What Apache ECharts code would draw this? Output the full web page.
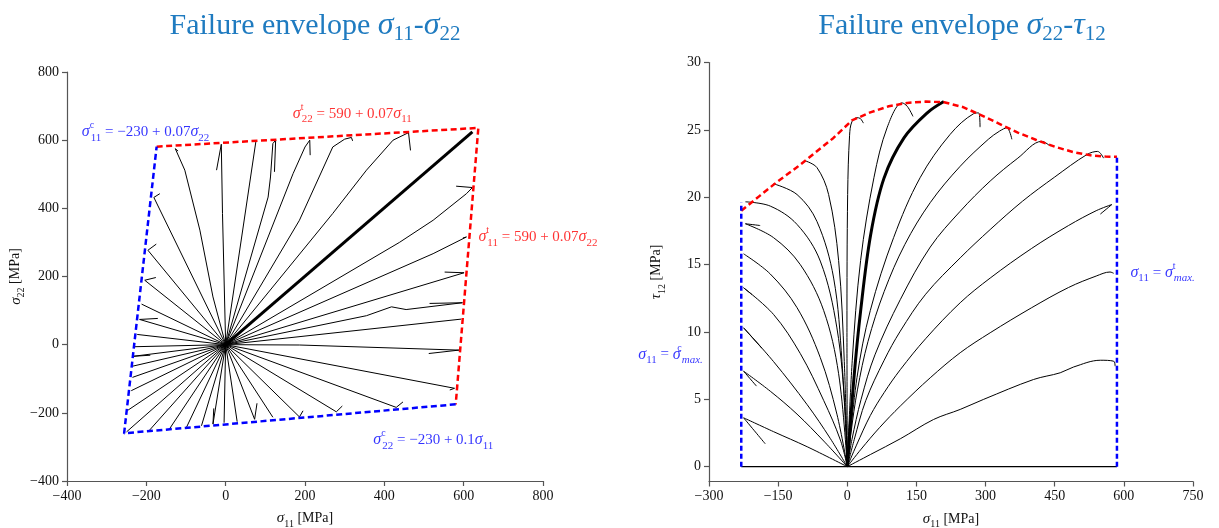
<!DOCTYPE html>
<html>
<head>
<meta charset="utf-8">
<script src="https://cdn.jsdelivr.net/npm/echarts@6/dist/echarts.min.js"></script>
<style>
  html, body { margin: 0; padding: 0; background: #fff; }
  #chart { width: 1219px; height: 528px; }
</style>
</head>
<body>
<div id="chart"></div>
<script>
// ---- data: left chart (sigma11 - sigma22), load paths from the origin to failure
const leftTopPaths = [
  [[0, 0], [-32, 140], [-65, 336], [-103, 512], [-127, 575], [-120, 568]],
  [[0, 0], [-8, 385], [-11, 588], [-23, 512]],
  [[0, 0], [76, 595]],
  [[0, 0], [107, 433], [113, 492], [119, 590], [126, 600], [123, 507]],
  [[0, 0], [170, 502], [200, 580], [212, 600], [213, 556]],
  [[0, 0], [186, 365], [270, 580], [300, 603], [317, 608], [320, 598]],
  [[0, 0], [270, 385], [355, 512], [422, 600], [461, 622], [466, 570]]
];
const leftRightPaths = [
  [[0, 0], [438, 300], [523, 365], [607, 443], [622, 461], [581, 465]],
  [[0, 0], [523, 267], [607, 316], [598, 313]],
  [[0, 0], [601, 211], [552, 213]],
  [[0, 0], [355, 85], [418, 111], [455, 103], [597, 123], [514, 121]],
  [[0, 0], [594, 75]],
  [[0, 0], [186, -1], [588, -16], [512, -26]],
  [[0, 0], [577, -128], [565, -133]]
];
const leftBottomPaths = [
  [[0, 0], [430, -184], [447, -168]],
  [[0, 0], [279, -197], [294, -180]],
  [[0, 0], [186, -212], [195, -194]],
  [[0, 0], [119, -213]],
  [[0, 0], [73, -219], [79, -172]],
  [[0, 0], [29, -226]],
  [[0, 0], [-4, -229]],
  [[0, 0], [-32, -233], [-30, -187]],
  [[0, 0], [-61, -238]],
  [[0, 0], [-99, -243]],
  [[0, 0], [-141, -246]],
  [[0, 0], [-192, -251]],
  [[0, 0], [-250, -256]]
];
const leftSidePaths = [
  [[0, 0], [-246, -192]],
  [[0, 0], [-238, -135]],
  [[0, 0], [-235, -96]],
  [[0, 0], [-234, -63]],
  [[0, 0], [-232, -34], [-190, -31]],
  [[0, 0], [-229, -6]],
  [[0, 0], [-223, 30]],
  [[0, 0], [-217, 74], [-171, 77]],
  [[0, 0], [-212, 119]],
  [[0, 0], [-204, 189], [-176, 197]],
  [[0, 0], [-196, 277], [-175, 295]],
  [[0, 0], [-181, 432], [-166, 443]]
];
const leftBold = [[0, 0], [622, 624]];
const leftEnvTension = [[-174, 581], [637, 636], [580, -175]];
const leftEnvCompression = [[580, -175], [-256, -260], [-174, 581]];

// ---- data: right chart (sigma11 - tau12)
const rightNegPaths = [
  [[0, 0], [-87, 1.48], [-160, 2.6], [-225, 3.63], [-178, 1.7]],
  [[0, 0], [-51, 1.9], [-109, 3.9], [-167, 5.6], [-225, 7.09], [-197, 5.98]],
  [[0, 0], [-37, 2.1], [-87, 4.6], [-160, 7.8], [-225, 10.31], [-185, 8.78]],
  [[0, 0], [-15, 1.98], [-51, 4.9], [-102, 8.4], [-160, 11.3], [-225, 13.28], [-207, 12.78]],
  [[0, 0], [-22.5, 3.9], [-58.6, 8.1], [-109, 11.8], [-167, 14.3], [-225, 15.8]],
  [[0, 0], [-18.8, 6.9], [-51.3, 11.6], [-102, 15.0], [-160, 17.0], [-221, 18.03], [-189, 17.9]],
  [[0, 0], [-4.4, 4.1], [-22.5, 10.3], [-58.6, 15.26], [-109, 17.98], [-167, 19.34], [-221, 19.66]],
  [[0, 0], [-11.5, 7.8], [-29.6, 14.0], [-65.8, 18.2], [-109, 20.2], [-160, 21.0]],
  [[0, 0], [-6.5, 7.8], [-18.8, 15.3], [-40.5, 20.2], [-65.8, 22.2], [-91, 22.7]],
  [[0, 0], [-0.7, 10.3], [0.8, 20.2], [5, 24.6], [10, 25.6], [21, 25.9], [28, 25.85], [35, 25.5]]
];
const rightPosPaths = [
  [[0, 0], [10.8, 7.9], [28.9, 15.3], [57.8, 21.45], [86.8, 25.2], [119, 27.0], [130, 26.75], [142.5, 26.0]],
  [[0, 0], [21, 6.6], [50, 11.6], [100.5, 17], [158, 21.45], [223, 24.66], [274, 26.2], [285, 26.26], [288, 25.2]],
  [[0, 0], [8, 2.5], [22, 5.7], [45, 9.3], [80, 13.0], [125, 16.5], [180, 19.6], [245, 22.3], [306, 24.3], [330, 24.9], [346, 25.15], [357, 24.3]],
  [[0, 0], [10, 2.0], [30, 5.0], [60, 8.3], [115, 12.4], [180, 16.3], [245, 18.96], [310, 21.2], [370, 22.9], [422, 24.15], [440, 23.8]],
  [[0, 0], [15, 2.0], [40, 4.9], [80, 7.9], [115, 10.06], [170, 12.8], [245, 15.5], [310, 17.6], [380, 19.7], [450, 21.5], [520, 23.17], [543, 23.4], [556, 22.9]],
  [[0, 0], [20, 1.6], [50, 3.8], [80, 5.5], [115, 7.2], [170, 9.5], [245, 12.17], [310, 14.0], [400, 16.2], [480, 17.9], [540, 19.0], [574, 19.46], [549, 18.75]],
  [[0, 0], [30, 1.3], [70, 2.9], [115, 4.5], [180, 6.6], [245, 8.46], [310, 9.94], [400, 11.8], [480, 13.3], [540, 14.15], [570, 14.45], [578, 14.35]],
  [[0, 0], [50, 0.9], [115, 2.07], [187, 3.5], [245, 4.25], [296, 5.0], [404, 6.47], [462, 6.97], [491, 7.4], [549, 7.9], [578, 7.83], [581, 7.46]]
];
const rightBold = [[0, 0], [14.5, 6.6], [28.9, 11.55], [50.6, 17.2], [79.5, 21.4], [123, 24.4], [173.5, 26.26], [209.5, 27.1]];
const rightEnvX = [-230, -190, -150, -110, -70, -30, 10, 50, 90, 130, 170, 210, 250, 290, 330, 370, 410, 450, 490, 530, 560, 585];
const rightEnvY = [19.0, 20.1, 21.2, 22.2, 23.3, 24.4, 25.7, 26.3, 26.75, 27.0, 27.1, 27.05, 26.7, 26.1, 25.45, 24.8, 24.25, 23.75, 23.35, 23.1, 23.02, 23.0];
const rightMaxC = [[-230, 0], [-230, 19.6]];
const rightMaxT = [[585, 0], [585, 23.1]];
const rightBase = [[-230, 0], [585, 0]];
const rightYTicks = [0, 5, 10, 15, 20, 25, 30];

const serif = "'Liberation Serif', 'DejaVu Serif', serif";
const chart = echarts.init(document.getElementById('chart'));

function mathRich(size, color) {
  const s = Math.round(size * 0.72);
  return {
    i: { fontFamily: serif, fontStyle: 'italic', fontSize: size + 1, color: color, lineHeight: size * 1.5 },
    sub: { fontFamily: serif, fontSize: s, color: color, lineHeight: s, verticalAlign: 'bottom' },
    subi: { fontFamily: serif, fontStyle: 'italic', fontSize: s, color: color, lineHeight: s, verticalAlign: 'bottom' },
    sup: { fontFamily: serif, fontSize: s - 1, color: color, lineHeight: s - 1, verticalAlign: 'top', width: 1 }
  };
}

function paths(list, idx, width, smooth) {
  return list.map(function (p) {
    return {
      type: 'line', xAxisIndex: idx, yAxisIndex: idx, data: p,
      symbol: 'none', smooth: smooth, silent: true, z: 2,
      lineStyle: { color: '#000', width: width }
    };
  });
}

function dashed(data, idx, color, dash) {
  return {
    type: 'line', xAxisIndex: idx, yAxisIndex: idx, data: data,
    symbol: 'none', silent: true, z: 5,
    lineStyle: { color: color, width: 2.5, type: dash }
  };
}

function note(idx, pt, text, color, position, distance) {
  return {
    type: 'scatter', xAxisIndex: idx, yAxisIndex: idx, data: [pt],
    symbolSize: 1, itemStyle: { color: 'rgba(0,0,0,0)' }, silent: true, clip: false, z: 6,
    label: {
      show: true, formatter: text, position: position, distance: distance,
      color: color, fontFamily: serif, fontSize: 15, lineHeight: 22,
      rich: mathRich(15, color)
    }
  };
}

function minus(v) { return String(v).replace('-', '\u2212'); }

function axisBase(idx) {
  return {
    gridIndex: idx, type: 'value',
    axisLine: { show: true, onZero: false, lineStyle: { color: '#555', width: 1.2 } },
    axisTick: { show: true, length: 5, lineStyle: { color: '#555', width: 1.2 } },
    axisLabel: { color: '#111', fontFamily: serif, fontSize: 14, margin: 8, formatter: minus, showMinLabel: true, showMaxLabel: true },
    splitLine: { show: false },
    nameLocation: 'middle',
    nameTextStyle: { color: '#111', fontFamily: serif, fontSize: 14, lineHeight: 21, rich: mathRich(14, '#111') }
  };
}

const titleStyle = {
  fontFamily: serif, fontSize: 30, fontWeight: 'normal', color: '#1f7bc0', lineHeight: 38,
  rich: {
    i: { fontFamily: serif, fontStyle: 'italic', fontSize: 32, color: '#1f7bc0', lineHeight: 38 },
    sub: { fontFamily: serif, fontSize: 21, color: '#1f7bc0', lineHeight: 20, verticalAlign: 'bottom' }
  }
};

const series = [].concat(
  paths(leftTopPaths, 0, 1, false),
  paths(leftRightPaths, 0, 1, false),
  paths(leftBottomPaths, 0, 1, false),
  paths(leftSidePaths, 0, 1, false),
  paths([leftBold], 0, 3, false),
  [dashed(leftEnvTension, 0, '#ff0000', [6, 3.5]), dashed(leftEnvCompression, 0, '#0000ff', [6, 3.5])],
  paths(rightNegPaths, 1, 1, 0.35),
  paths(rightPosPaths, 1, 1, 0.35),
  paths([rightBold], 1, 3, 0.35),
  paths([rightBase], 1, 1.3, false),
  [
    dashed(rightEnvX.map(function (x, i) { return [x, rightEnvY[i]]; }), 1, '#ff0000', [6, 3.5]),
    dashed(rightMaxC, 1, '#0000ff', [5, 3]),
    dashed(rightMaxT, 1, '#0000ff', [5, 3])
  ],
  [
    note(0, [-364, 624], '{i|σ}{sup|c}{sub|11} = −230 + 0.07{i|σ}{sub|22}', '#0000ff', 'right', 0),
    note(0, [168, 678], '{i|σ}{sup|t}{sub|22} = 590 + 0.07{i|σ}{sub|11}', '#ff0000', 'right', 0),
    note(0, [636, 316], '{i|σ}{sup|t}{sub|11} = 590 + 0.07{i|σ}{sub|22}', '#ff0000', 'right', 0),
    note(0, [371, -280], '{i|σ}{sup|c}{sub|22} = −230 + 0.1{i|σ}{sub|11}', '#0000ff', 'right', 0),
    note(1, [585, 14.4], '{i|σ}{sub|11} = {i|σ}{sup|t}{subi|max.}', '#0000ff', 'right', 13),
    note(1, [-230, 8.33], '{i|σ}{sub|11} = {i|σ}{sup|c}{subi|max.}', '#0000ff', 'left', 38)
  ]
);

chart.setOption({
  animation: false,
  backgroundColor: '#fff',
  title: [
    { text: 'Failure envelope {i|σ}{sub|11}-{i|σ}{sub|22}', left: 310, top: 2, textAlign: 'center', textStyle: titleStyle },
    { text: 'Failure envelope {i|σ}{sub|22}-{i|τ}{sub|12}', left: 957, top: 2, textAlign: 'center', textStyle: titleStyle }
  ],
  grid: [
    { left: 67, top: 72, width: 476, height: 409, outerBoundsMode: 'none', containLabel: false },
    { left: 709, top: 62.5, width: 484, height: 419, outerBoundsMode: 'none', containLabel: false }
  ],
  xAxis: [
    Object.assign(axisBase(0), { min: -400, max: 800, interval: 200, name: '{i|σ}{sub|11} [MPa]', nameGap: 23 }),
    Object.assign(axisBase(1), { min: -300, max: 750, interval: 150, name: '{i|σ}{sub|11} [MPa]', nameGap: 23 })
  ],
  yAxis: [
    Object.assign(axisBase(0), { min: -400, max: 800, interval: 200, name: '{i|σ}{sub|22} [MPa]', nameGap: 39 }),
    (function () {
      const a = Object.assign(axisBase(1), { min: -1.1, max: 30, name: '{i|τ}{sub|12} [MPa]', nameGap: 42 });
      a.axisLabel.customValues = rightYTicks;
      a.axisTick.customValues = rightYTicks;
      return a;
    })()
  ],
  series: series
});
</script>
</body>
</html>
